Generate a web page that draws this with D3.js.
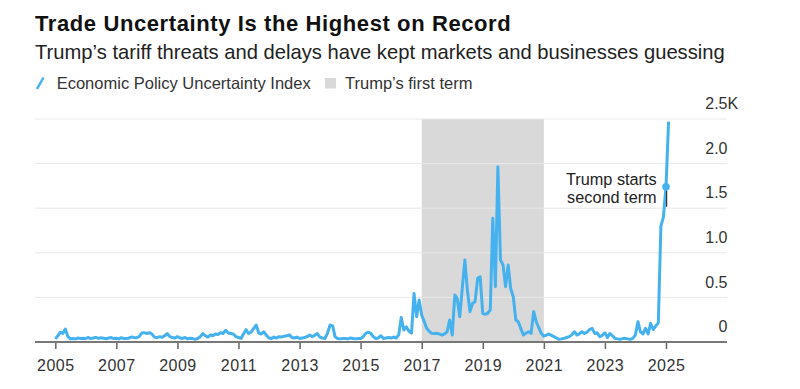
<!DOCTYPE html>
<html>
<head>
<meta charset="utf-8">
<title>Trade Uncertainty Is the Highest on Record</title>
<script src="https://cdn.jsdelivr.net/npm/d3@7"></script>
<style>
  body { margin: 0; background: #fff; }
  text { font-family: "Liberation Sans", Arial, Helvetica, sans-serif; }
</style>
</head>
<body>
<script>
// monthly index values, Jan 2005 .. Feb 2025
var epu = [
  35, 70, 110, 95, 145, 60, 35, 40, 35, 45, 38, 42,          // 2005
  40, 50, 38, 45, 52, 40, 48, 42, 36, 45, 50, 38,            // 2006
  42, 35, 48, 40, 38, 45, 55, 50, 48, 60, 100, 105,          // 2007
  95, 105, 90, 55, 48, 60, 52, 70, 95, 60, 50, 45,           // 2008
  60, 45, 40, 50, 35, 42, 38, 30, 40, 60, 95, 70,            // 2009
  55, 80, 70, 90, 85, 105, 95, 132, 100, 95, 90, 60,         // 2010
  50, 40, 90, 138, 95, 110, 150, 190, 100, 90, 115, 75,      // 2011
  45, 40, 55, 45, 60, 55, 65, 70, 80, 50, 45, 55,            // 2012
  40, 45, 50, 60, 78, 60, 75, 95, 55, 45, 40, 100,           // 2013
  190, 180, 60, 40, 35, 38, 40, 35, 45, 40, 35, 38,          // 2014
  40, 60, 95, 110, 100, 60, 40, 45, 70, 40, 45, 50,          // 2015
  45, 55, 45, 80, 275, 135, 170, 120, 100, 545, 284, 470,    // 2016
  300, 228, 153, 120, 97, 95, 97, 90, 78, 90, 115, 247,      // 2017
  78, 527, 490, 284, 600, 919, 583, 340, 434, 452, 714, 732, // 2018
  322, 310, 322, 359, 1387, 620, 1965, 919, 863, 620, 863, 600, // 2019
  508, 247, 228, 150, 78, 100, 115, 97, 340, 230, 160, 97,   // 2020
  65, 78, 90, 75, 60, 45, 30, 35, 41, 50, 60, 80,            // 2021
  115, 78, 90, 115, 95, 110, 140, 153, 96, 104, 60, 75,      // 2022
  104, 50, 96, 70, 41, 35, 30, 38, 41, 35, 30, 41,           // 2023
  80, 228, 115, 90, 153, 90, 209, 140, 180, 215, 1300, 1400, // 2024
  1741, 2470                                                 // 2025
];
var firstTerm = ["2017-01-01", "2021-01-01"];
var secondTerm = "2025-01-01";
var xTickYears = [2005, 2007, 2009, 2011, 2013, 2015, 2017, 2019, 2021, 2023, 2025];
var yTicks = [0, 500, 1000, 1500, 2000, 2500];
var yTickLabels = ["0", "0.5", "1.0", "1.5", "2.0", "2.5"];

var blue = "#45b2ef";
var parse = d3.timeParse("%Y-%m-%d");
var data = epu.map(function (v, i) { return { date: new Date(2005, i, 1), value: v }; });

var svg = d3.select("body").append("svg")
    .attr("width", 800)
    .attr("height", 389);

var left = 35, right = 727;
var x = d3.scaleTime()
    .domain([new Date(2005, 0, 1), new Date(2025, 0, 1)])
    .range([55.3, 666]);
var y = d3.scaleLinear().domain([0, 2500]).range([342, 119]);

// titles
svg.append("text").attr("x", 35).attr("y", 31)
    .attr("font-size", 22).attr("font-weight", "bold").attr("letter-spacing", 0.6)
    .attr("fill", "#111")
    .text("Trade Uncertainty Is the Highest on Record");
svg.append("text").attr("x", 35).attr("y", 59.3)
    .attr("font-size", 20.2).attr("fill", "#222")
    .text("Trump\u2019s tariff threats and delays have kept markets and businesses guessing");

// legend
var legend = svg.append("g").attr("font-size", 16.5).attr("fill", "#333");
legend.append("line").attr("x1", 37).attr("y1", 89).attr("x2", 43.5).attr("y2", 77.5)
    .attr("stroke", blue).attr("stroke-width", 2.5);
legend.append("text").attr("x", 56.7).attr("y", 88.5).text("Economic Policy Uncertainty Index");
legend.append("rect").attr("x", 325).attr("y", 78).attr("width", 11).attr("height", 10.5)
    .attr("fill", "#d9d9d9");
legend.append("text").attr("x", 345).attr("y", 88.5).text("Trump\u2019s first term");

// shaded first term
svg.append("rect")
    .attr("x", x(parse(firstTerm[0])))
    .attr("width", x(parse(firstTerm[1])) - x(parse(firstTerm[0])))
    .attr("y", y(2500))
    .attr("height", y(0) - y(2500))
    .attr("fill", "#d9d9d9");

// gridlines
svg.selectAll(".grid").data(yTicks.slice(1)).enter().append("line")
    .attr("x1", left).attr("x2", right)
    .attr("y1", function (d) { return y(d); })
    .attr("y2", function (d) { return y(d); })
    .attr("stroke", "#e8e8e8").attr("stroke-width", 1);

// y labels
svg.selectAll(".ylab").data(yTicks).enter().append("text")
    .attr("x", right + 0.5)
    .attr("y", function (d) { return y(d) - 9.8; })
    .attr("text-anchor", "end")
    .attr("font-size", 16).attr("fill", "#333")
    .text(function (d, i) { return yTickLabels[i]; });
svg.append("text").attr("x", right + 0.5).attr("y", y(2500) - 9.8)
    .attr("font-size", 16).attr("fill", "#333").text("K");

// x axis
var xAxis = d3.axisBottom(x)
    .tickValues(xTickYears.map(function (yr) { return new Date(yr, 0, 1); }))
    .tickFormat(d3.timeFormat("%Y"))
    .tickSize(7)
    .tickPadding(10.5);
var gx = svg.append("g").attr("transform", "translate(0," + y(0) + ")").call(xAxis);
gx.select(".domain").remove();
gx.selectAll(".tick line").attr("stroke", "#666").attr("stroke-width", 1.5);
gx.selectAll(".tick text").attr("font-size", 16).attr("fill", "#333")
    .attr("letter-spacing", 0.5)
    .style("font-family", "'Liberation Sans', Arial, Helvetica, sans-serif");
svg.append("line").attr("x1", left).attr("x2", right)
    .attr("y1", y(0)).attr("y2", y(0))
    .attr("stroke", "#777").attr("stroke-width", 2);

// line
var line = d3.line()
    .x(function (d) { return x(d.date); })
    .y(function (d) { return y(d.value); });
svg.append("path").datum(data)
    .attr("d", line)
    .attr("fill", "none")
    .attr("stroke", blue)
    .attr("stroke-width", 3)
    .attr("stroke-linejoin", "round");

// annotation
var st = data.filter(function (d) { return +d.date === +parse(secondTerm); })[0];
var dx = x(st.date), dy = y(st.value);
svg.append("line").attr("x1", dx + 0.6).attr("x2", dx + 0.6)
    .attr("y1", dy + 4).attr("y2", dy + 20)
    .attr("stroke", "#333").attr("stroke-width", 1.2);
svg.append("circle").attr("cx", dx).attr("cy", dy).attr("r", 3.8).attr("fill", blue);
var ann = svg.append("text").attr("text-anchor", "end")
    .attr("font-size", 16.3).attr("fill", "#222");
ann.append("tspan").attr("x", 656.7).attr("y", 185).text("Trump starts");
ann.append("tspan").attr("x", 656.7).attr("y", 202.7).text("second term");
</script>
</body>
</html>
